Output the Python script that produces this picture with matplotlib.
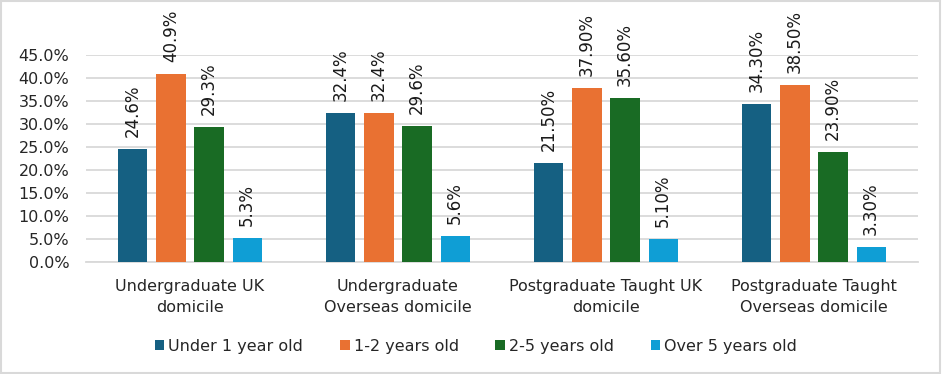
import numpy as np
import matplotlib.pyplot as plt
import matplotlib
matplotlib.rcParams['font.family'] = ['DejaVu Sans']

categories = ["Undergraduate UK\ndomicile", "Undergraduate\nOverseas domicile",
              "Postgraduate Taught UK\ndomicile", "Postgraduate Taught\nOverseas domicile"]
series = ["Under 1 year old", "1-2 years old", "2-5 years old", "Over 5 years old"]
values = [
    [24.6, 32.4, 21.5, 34.3],
    [40.9, 32.4, 37.9, 38.5],
    [29.3, 29.6, 35.6, 23.9],
    [5.3, 5.6, 5.1, 3.3],
]
labels = [
    ["24.6%", "32.4%", "21.50%", "34.30%"],
    ["40.9%", "32.4%", "37.90%", "38.50%"],
    ["29.3%", "29.6%", "35.60%", "23.90%"],
    ["5.3%", "5.6%", "5.10%", "3.30%"],
]
colors = ["#156082", "#E97132", "#196B24", "#0F9ED5"]

fig = plt.figure(figsize=(9.42, 3.74), dpi=100)
ax = fig.add_axes([86 / 942, 1 - 262 / 374, 832 / 942, 207 / 374])

x = np.arange(len(categories))
width = 0.14
step = 0.183
for i, (name, vals, labs, c) in enumerate(zip(series, values, labels, colors)):
    pos = x + (i - 1.5) * step
    bars = ax.bar(pos, vals, width=width, color=c, label=name, zorder=3)
    for b, lab in zip(bars, labs):
        ax.annotate(lab, (b.get_x() + b.get_width() / 2, b.get_height()),
                    xytext=(0, 8.5), textcoords="offset points", rotation=90,
                    ha="center", va="bottom", fontsize=12, color="#1a1a1a",
                    annotation_clip=False)

ax.set_xlim(-0.5, 3.5)
ax.set_ylim(0, 45)
ax.set_yticks(np.arange(0, 46, 5))
ax.set_yticklabels([f"{v:.1f}%" for v in np.arange(0, 46, 5)], fontsize=11.5, color="#262626")
ax.set_xticks(x)
ax.set_xticklabels(categories, fontsize=11.5, color="#262626", linespacing=1.5)
ax.tick_params(length=0)
ax.tick_params(axis="y", pad=12)
ax.tick_params(axis="x", pad=12)
ax.grid(axis="y", color="#d9d9d9", linewidth=1.3, zorder=0)
for s in ["top", "right", "left"]:
    ax.spines[s].set_visible(False)
ax.spines["bottom"].set_color("#d9d9d9")
ax.spines["bottom"].set_linewidth(1.3)

fig.legend(loc="center", bbox_to_anchor=(476 / 942, 1 - 346 / 374), ncol=4,
           frameon=False, fontsize=11.5, handlelength=0.6, handleheight=0.6,
           handletextpad=0.25, columnspacing=2.3, labelcolor="#262626")

fig.patches.append(plt.Rectangle((0.001, 0.002), 0.997, 0.995, transform=fig.transFigure,
                                 fill=False, edgecolor="#d9d9d9", linewidth=1.5))

plt.savefig("out.png", dpi=100)
